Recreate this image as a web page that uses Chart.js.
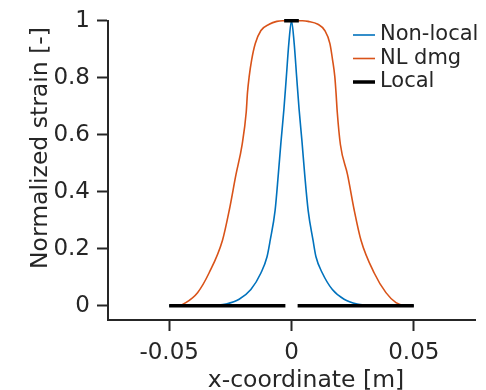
<!DOCTYPE html>
<html>
<head>
<meta charset="utf-8">
<script src="https://cdn.jsdelivr.net/npm/chart.js@4/dist/chart.umd.min.js"></script>
<style>
  html, body { margin: 0; padding: 0; background: #fff; }
  #wrap { width: 486px; height: 390px; }
</style>
</head>
<body>
<div id="wrap"><canvas id="strainChart" width="486" height="390"></canvas></div>
<script>
// values
const nonLocalX = [-0.05, -0.035, -0.030, -0.0268, -0.0214, -0.0166, -0.0125, -0.0100, -0.0087, -0.0067, -0.0054, -0.0043, -0.0031, -0.0021, -0.0011, 0,
  0.0011, 0.0021, 0.0031, 0.0043, 0.0054, 0.0068, 0.0088, 0.0100, 0.0126, 0.0167, 0.0215, 0.0268, 0.030, 0.035, 0.05];
const nonLocalY = [0, 0, 0.002, 0.006, 0.023, 0.057, 0.115, 0.172, 0.230, 0.335, 0.460, 0.575, 0.690, 0.804, 0.920, 1,
  0.920, 0.804, 0.690, 0.575, 0.460, 0.335, 0.230, 0.172, 0.115, 0.057, 0.023, 0.006, 0.002, 0, 0];

const nlDmgX = [-0.05, -0.046, -0.0432, -0.0384, -0.0337, -0.0282, -0.0254, -0.0227, -0.0202, -0.0185, -0.0180, -0.0173, -0.0163, -0.0148, -0.0125, -0.0091, -0.0060, -0.0036, 0,
  0.0045, 0.0068, 0.0108, 0.0136, 0.0157, 0.0168, 0.0177, 0.0182, 0.0187, 0.0200, 0.0229, 0.0256, 0.0284, 0.0338, 0.0386, 0.0427, 0.046, 0.05];
const nlDmgY = [0, 0.001, 0.011, 0.046, 0.115, 0.230, 0.337, 0.460, 0.565, 0.680, 0.747, 0.804, 0.862, 0.920, 0.966, 0.988, 0.998, 1, 1,
  1, 0.998, 0.988, 0.966, 0.920, 0.862, 0.804, 0.747, 0.680, 0.565, 0.460, 0.337, 0.230, 0.115, 0.046, 0.011, 0.001, 0];

// local solution: zero outside the central element, 1 inside (nulls break the line)
const localX = [-0.05, -0.0025, 0, -0.003, 0.003, 0, 0.0025, 0.05];
const localY = [0, 0, null, 1, 1, null, 0, 0];

const seriesNames = ['Non-local', 'NL dmg', 'Local'];
const xTicks = [-0.05, 0, 0.05];
const yTicks = [0, 0.2, 0.4, 0.6, 0.8, 1];
const xTitle = 'x-coordinate [m]';
const yTitle = 'Normalized strain [-]';

const AXIS_COLOR = '#262626';
const FONT = '"DejaVu Sans", Verdana, sans-serif';

const toPoints = (xs, ys) => xs.map((x, i) => ({ x, y: ys[i] }));

// legend inside the plot (top right) + axis titles, which sit a bit off-centre in the original
const decorations = {
  id: 'decorations',
  afterDatasetsDraw(chart) {
    const ctx = chart.ctx;
    ctx.save();
    ctx.font = '21px ' + FONT;
    ctx.textBaseline = 'middle';
    ctx.textAlign = 'left';
    chart.data.datasets.forEach((ds, i) => {
      const y = 35 + i * 23.5;
      ctx.strokeStyle = ds.borderColor;
      ctx.lineWidth = ds.borderWidth;
      ctx.beginPath();
      ctx.moveTo(353, y);
      ctx.lineTo(375, y);
      ctx.stroke();
      ctx.fillStyle = AXIS_COLOR;
      ctx.fillText(ds.label, 380, y);
    });

    ctx.font = '23.5px ' + FONT;
    ctx.textAlign = 'center';
    ctx.textBaseline = 'alphabetic';
    ctx.fillText(xTitle, 306, 387);
    ctx.translate(47, 148);
    ctx.rotate(-Math.PI / 2);
    ctx.fillText(yTitle, 0, 0);
    ctx.restore();
  },
};

const axisCommon = {
  type: 'linear',
  border: { display: true, color: AXIS_COLOR, width: 2 },
  grid: { drawOnChartArea: false, drawTicks: true, tickLength: 11, tickWidth: 2, tickColor: AXIS_COLOR },
};

new Chart(document.getElementById('strainChart'), {
  type: 'line',
  data: {
    datasets: [
      {
        label: seriesNames[0],
        data: toPoints(nonLocalX, nonLocalY),
        borderColor: '#0072BD',
        borderWidth: 1.6,
        cubicInterpolationMode: 'monotone',
        pointRadius: 0,
        order: 2,
      },
      {
        label: seriesNames[1],
        data: toPoints(nlDmgX, nlDmgY),
        borderColor: '#D95319',
        borderWidth: 1.6,
        cubicInterpolationMode: 'monotone',
        pointRadius: 0,
        order: 3,
      },
      {
        label: seriesNames[2],
        data: toPoints(localX, localY),
        borderColor: '#000000',
        borderWidth: 3.5,
        spanGaps: false,
        pointRadius: 0,
        order: 1,
      },
    ],
  },
  options: {
    responsive: false,
    devicePixelRatio: 1,
    animation: false,
    parsing: false,
    normalized: false,
    layout: { padding: { top: 15, right: 11, left: 0, bottom: 0 } },
    plugins: {
      legend: { display: false },
      tooltip: { enabled: false },
    },
    elements: { line: { fill: false } },
    datasets: { line: { clip: false } },
    scales: {
      x: {
        ...axisCommon,
        min: -0.075,
        max: 0.075,
        afterBuildTicks: (scale) => { scale.ticks = xTicks.map(v => ({ value: v })); },
        afterFit: (scale) => { scale.height = 70; },
        ticks: {
          autoSkip: false,
          maxRotation: 0,
          padding: 8,
          color: AXIS_COLOR,
          font: { family: FONT, size: 23 },
          callback: (v) => String(v),
        },
      },
      y: {
        ...axisCommon,
        min: -0.05,
        max: 1,
        afterBuildTicks: (scale) => { scale.ticks = yTicks.map(v => ({ value: v })); },
        afterFit: (scale) => { scale.width = 108; },
        ticks: {
          autoSkip: false,
          padding: 7,
          color: AXIS_COLOR,
          font: { family: FONT, size: 23 },
          callback: (v) => String(v),
        },
      },
    },
  },
  plugins: [decorations],
});
</script>
</body>
</html>
